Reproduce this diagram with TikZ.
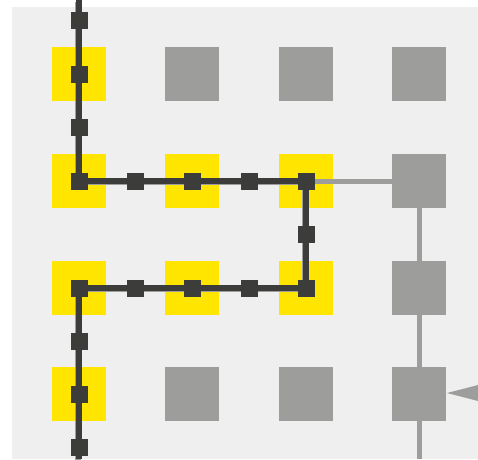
\documentclass[tikz,border=0pt]{standalone}
\definecolor{cyellow}{HTML}{FFE500}
\definecolor{cgray}{HTML}{9D9D9C}
\definecolor{cdark}{HTML}{3C3C3B}
\definecolor{cbg}{HTML}{EFEFEF}
\begin{document}
\begin{tikzpicture}[x=1pt,y=-1pt,
 cell/.style={rectangle, minimum size=54pt, inner sep=0pt, outer sep=0pt},
 ycell/.style={cell, fill=cyellow},
 gcell/.style={cell, fill=cgray},
 mk/.style={rectangle, minimum size=17pt, inner sep=0pt, outer sep=0pt, fill=cdark},
 dline/.style={draw=cdark, line width=5.5pt},
 shline/.style={draw=cgray, line width=5.5pt, transform canvas={xshift=-1pt, yshift=-1.5pt}},
 gline/.style={draw=cgray, line width=5pt}]
\useasboundingbox (0,0) rectangle (478,459);
\fill[cbg] (12,7) rectangle (478,459);
% grid of cells
\node[ycell] (s11) at (79,74) {};
\node[gcell] (s12) at (192,74) {};
\node[gcell] (s13) at (306,74) {};
\node[gcell] (s14) at (419,74) {};
\node[ycell] (s21) at (79,181) {};
\node[ycell] (s22) at (192,181) {};
\node[ycell] (s23) at (306,181) {};
\node[gcell] (s24) at (419,181) {};
\node[ycell] (s31) at (79,288) {};
\node[ycell] (s32) at (192,288) {};
\node[ycell] (s33) at (306,288) {};
\node[gcell] (s34) at (419,288) {};
\node[ycell] (s41) at (79,394) {};
\node[gcell] (s42) at (192,394) {};
\node[gcell] (s43) at (306,394) {};
\node[gcell] (s44) at (419,394) {};
% free ends
\coordinate (top) at (79,0);
\coordinate (bot) at (79,459);
\coordinate (gbot) at (419,459);
% gray route
\draw[gline] (s23.center) -- (s24.center) -- (gbot);
% dark route with shadow
\draw[shline] (top) -- (s11.center) -- (s21.center) -- (s23.center) -- (s33.center) -- (s31.center) -- (bot);
\draw[dline] (top) -- (s11.center) -- (s21.center) -- (s23.center) -- (s33.center) -- (s31.center) -- (bot);
% markers
\node[mk] (m1) at (79,20) {};
\node[mk] (m2) at (s11.center) {};
\node[mk] (m3) at (79,127) {};
\node[mk] (m4) at (s21.center) {};
\node[mk] (m5) at (135,181) {};
\node[mk] (m6) at (s22.center) {};
\node[mk] (m7) at (249,181) {};
\node[mk] (m8) at (s23.center) {};
\node[mk] (m9) at (306,234) {};
\node[mk] (m10) at (s33.center) {};
\node[mk] (m11) at (249,288) {};
\node[mk] (m12) at (s32.center) {};
\node[mk] (m13) at (135,288) {};
\node[mk] (m14) at (s31.center) {};
\node[mk] (m15) at (79,341) {};
\node[mk] (m16) at (s41.center) {};
\node[mk] (m17) at (79,447) {};
% incoming arrowhead
\fill[cgray] (447,393) -- (480,384.5) -- (480,401.5) -- cycle;
\end{tikzpicture}
\end{document}
